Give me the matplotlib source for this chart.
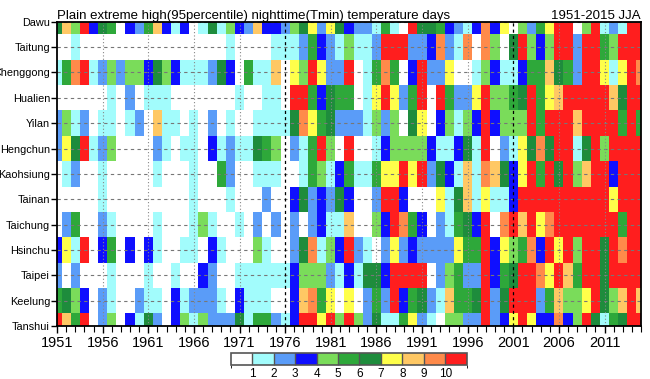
import numpy as np
import matplotlib
matplotlib.use("Agg")
import matplotlib.pyplot as plt
from matplotlib.colors import ListedColormap, BoundaryNorm

plt.rcParams['font.family'] = ['Liberation Sans', 'DejaVu Sans']

years = np.arange(1951, 2016)

# category (0-10) per year, 1951..2015
dawu = [6, 8, 4, 10, 3, 6, 5, 0, 3, 2, 5, 8, 3, 1, 3, 0, 1, 6, 1, 4,
        3, 2, 8, 3, 3, 2, 4, 6, 7, 2, 7, 6, 3, 2, 2, 1, 5, 1, 0, 10,
        6, 6, 5, 3, 2, 1, 3, 9, 3, 7, 0, 4, 2, 5, 7, 10, 10, 0, 4, 10,
        1, 2, 1, 10, 10]
taitung = [0, 0, 1, 0, 0, 0, 0, 0, 0, 0, 0, 0, 0, 0, 0, 0, 0, 0, 0, 1,
           0, 0, 0, 0, 1, 1, 1, 2, 5, 3, 2, 1, 4, 1, 1, 2, 10, 10, 10, 2,
           2, 3, 9, 2, 1, 9, 0, 9, 4, 0, 6, 10, 4, 3, 4, 10, 10, 2, 10, 10,
           5, 4, 10, 10, 10]
chenggong = [1, 5, 9, 10, 1, 2, 4, 2, 4, 4, 3, 6, 4, 3, 1, 1, 1, 2, 6, 3,
             0, 5, 1, 1, 8, 0, 7, 4, 10, 7, 2, 2, 10, 0, 1, 5, 9, 5, 0, 3,
             10, 2, 2, 7, 0, 0, 1, 4, 3, 1, 1, 3, 5, 5, 8, 6, 5, 2, 10, 10,
             7, 1, 7, 10, 9]
hualien = [0, 0, 0, 0, 0, 0, 1, 0, 2, 0, 1, 1, 1, 0, 0, 0, 0, 0, 0, 0,
           1, 0, 0, 1, 1, 0, 10, 10, 5, 3, 6, 5, 5, 0, 1, 7, 10, 7, 2, 5,
           10, 0, 10, 5, 2, 2, 7, 10, 4, 4, 5, 6, 10, 5, 7, 8, 10, 10, 10, 10,
           10, 8, 6, 10, 10]
yilan = [2, 4, 1, 2, 0, 1, 1, 0, 1, 2, 0, 8, 1, 1, 0, 1, 0, 2, 0, 1,
         0, 0, 1, 1, 1, 1, 6, 9, 7, 5, 6, 2, 2, 2, 1, 4, 2, 4, 0, 6,
         7, 0, 3, 4, 1, 4, 3, 10, 3, 4, 4, 4, 10, 5, 10, 10, 10, 8, 10, 10,
         10, 10, 5, 10, 5]
hengchun = [2, 7, 6, 10, 1, 2, 4, 0, 0, 0, 0, 2, 1, 0, 1, 1, 0, 3, 1, 2,
            1, 1, 6, 5, 4, 0, 2, 1, 5, 10, 4, 0, 10, 0, 0, 1, 3, 4, 4, 4,
            4, 3, 1, 1, 3, 6, 1, 10, 0, 2, 1, 7, 6, 9, 6, 10, 10, 1, 6, 10,
            4, 10, 10, 10, 10]
kaohsiung = [0, 1, 2, 0, 0, 1, 0, 0, 0, 0, 0, 1, 0, 0, 0, 1, 0, 0, 5, 2,
             0, 0, 1, 1, 1, 0, 0, 1, 5, 4, 1, 3, 5, 1, 1, 5, 7, 7, 10, 7,
             10, 2, 6, 3, 1, 8, 1, 9, 8, 6, 3, 7, 10, 5, 10, 6, 10, 4, 8, 10,
             10, 3, 10, 10, 10]
tainan = [0, 0, 0, 0, 0, 1, 0, 0, 0, 0, 0, 0, 0, 0, 0, 1, 0, 0, 0, 1,
          0, 0, 0, 2, 0, 0, 3, 6, 2, 3, 2, 6, 3, 0, 0, 2, 10, 10, 3, 0,
          0, 0, 7, 1, 6, 8, 1, 7, 1, 1, 3, 10, 10, 10, 10, 10, 10, 10, 10, 10,
          10, 7, 10, 10, 10]
taichung = [0, 2, 5, 0, 0, 2, 1, 0, 0, 0, 0, 1, 0, 0, 0, 1, 4, 1, 0, 0,
            1, 0, 2, 0, 2, 0, 2, 0, 2, 3, 1, 1, 8, 0, 0, 4, 3, 10, 9, 5,
            3, 0, 2, 1, 5, 6, 3, 10, 0, 9, 10, 8, 10, 7, 9, 10, 10, 10, 10, 10,
            10, 10, 5, 10, 10]
hsinchu = [3, 7, 1, 10, 0, 3, 5, 0, 3, 0, 3, 1, 0, 0, 1, 1, 0, 3, 1, 0,
           0, 0, 4, 1, 0, 0, 2, 6, 9, 1, 4, 3, 10, 2, 1, 0, 2, 7, 2, 3,
           2, 2, 2, 2, 7, 5, 5, 10, 3, 7, 4, 5, 9, 3, 10, 7, 10, 4, 10, 10,
           6, 10, 9, 10, 10]
taipei = [2, 0, 2, 0, 0, 0, 1, 0, 0, 0, 1, 0, 0, 1, 0, 0, 3, 2, 0, 0,
          1, 1, 1, 1, 1, 1, 3, 4, 4, 4, 2, 1, 3, 1, 6, 6, 3, 10, 10, 10,
          10, 0, 2, 4, 5, 2, 2, 10, 3, 5, 6, 10, 10, 9, 7, 10, 8, 5, 10, 10,
          6, 10, 10, 10, 10]
keelung = [5, 6, 4, 3, 0, 2, 1, 0, 0, 2, 1, 1, 0, 3, 1, 2, 2, 2, 1, 0,
           3, 1, 1, 1, 0, 0, 3, 8, 9, 5, 7, 0, 7, 0, 2, 5, 2, 10, 3, 5,
           6, 2, 1, 8, 5, 5, 6, 10, 2, 6, 10, 10, 10, 2, 5, 8, 4, 4, 7, 10,
           6, 4, 8, 10, 8]
tanshui = [10, 8, 5, 10, 0, 2, 4, 0, 3, 1, 6, 2, 0, 3, 4, 1, 4, 2, 2, 2,
           6, 1, 5, 5, 2, 1, 3, 10, 10, 7, 10, 4, 10, 4, 2, 6, 1, 1, 5, 7,
           2, 1, 0, 4, 4, 2, 2, 10, 2, 3, 7, 10, 7, 3, 3, 9, 3, 4, 10, 6,
           1, 5, 6, 10, 10]

# bottom to top
stations = ['Tanshui', 'Keelung', 'Taipei', 'Hsinchu', 'Taichung', 'Tainan',
            'Kaohsiung', 'Hengchun', 'Yilan', 'Hualien', 'Chenggong',
            'Taitung', 'Dawu']
rows = [tanshui, keelung, taipei, hsinchu, taichung, tainan, kaohsiung,
        hengchun, yilan, hualien, chenggong, taitung, dawu]

colors = ['#ffffff', '#a2fcfc', '#5a9cf8', '#0f0fff', '#7adc5a', '#2ea83a',
          '#1e8c3c', '#ffff4a', '#ffc864', '#ff8a4a', '#ff1e1e']
levels = [1, 2, 3, 4, 5, 6, 7, 8, 9, 10]

cmap = ListedColormap(colors)
norm = BoundaryNorm([-1] + levels + [11], cmap.N)

data = np.array(rows, dtype=float)

fig = plt.figure(figsize=(6.5, 3.79), dpi=100)
ax = fig.add_axes([0.0877, 0.1398, 0.8985, 0.8029])

xe = np.arange(years[0] - 0.5, years[-1] + 1.5)
ye = np.arange(-0.5, len(stations) + 0.5)
ax.pcolormesh(xe, ye, data, cmap=cmap, norm=norm)

ax.set_xlim(1951, 2015)
ax.set_ylim(0, len(stations) - 1)

# grid lines
for i in range(len(stations)):
    ax.axhline(i, color='#777777', lw=0.8, ls=(0, (3, 3)))
for yr in range(1956, 2015, 5):
    if yr in (1976, 2001):
        ax.axvline(yr, color='black', lw=0.9, ls=(0, (2.5, 2.5)))
    else:
        ax.axvline(yr, color='#888888', lw=0.8, ls=(0, (1, 2)))

ax.set_yticks(range(len(stations)))
ax.set_yticklabels(stations, fontsize=7.8)
ax.set_xticks(range(1951, 2015, 5))
ax.set_xticklabels([str(y) for y in range(1951, 2015, 5)], fontsize=10.5)
ax.set_xticks(years, minor=True)
ax.tick_params(axis='x', which='major', length=5, width=1, direction='out')
ax.tick_params(axis='x', which='minor', length=4, width=0.8, direction='out')
ax.tick_params(axis='y', length=4, width=1, direction='out', pad=1)
ax.tick_params(axis='x', pad=2)
for s in ax.spines.values():
    s.set_linewidth(1.3)

ax.set_title('Plain extreme high(95percentile) nighttime(Tmin) temperature days',
             loc='left', fontsize=9.5, pad=2)
ax.set_title('1951-2015 JJA', loc='right', fontsize=9.5, pad=2)

# colour bar
cax = fig.add_axes([0.355, 0.037, 0.363, 0.0317])
cb = fig.colorbar(plt.cm.ScalarMappable(norm=norm, cmap=cmap), cax=cax,
                  orientation='horizontal', drawedges=True)
cb.set_ticks(levels)
cb.set_ticklabels([str(v) for v in levels])
cb.ax.tick_params(length=0, labelsize=8.5, pad=2)
cb.outline.set_linewidth(1.2)
cb.outline.set_edgecolor('#555555')
cb.dividers.set_color('#555555')
cb.dividers.set_linewidth(1.0)

fig.savefig('out.png', dpi=100)
